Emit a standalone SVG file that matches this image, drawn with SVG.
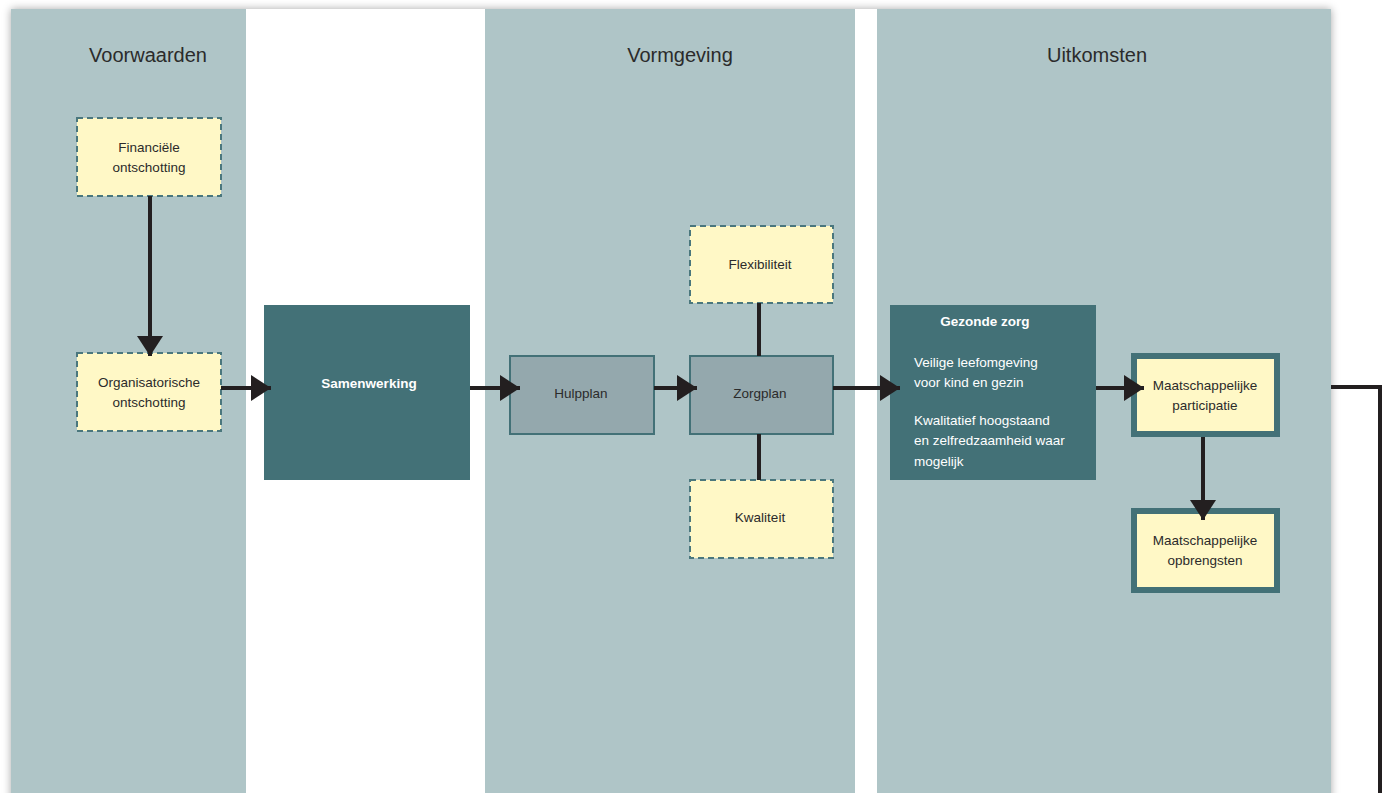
<svg xmlns="http://www.w3.org/2000/svg" width="1388" height="793" viewBox="0 0 1388 793">
<defs>
<filter id="sh" x="-5%" y="-5%" width="110%" height="110%">
<feDropShadow dx="0" dy="0" stdDeviation="4" flood-color="#000" flood-opacity="0.35"/>
</filter>
<marker id="ah" viewBox="0 0 20 26" refX="20" refY="13" markerWidth="20" markerHeight="26" markerUnits="userSpaceOnUse" orient="auto">
<path d="M0,0 L20,13 L0,26 Z" fill="#231f20"/>
</marker>
<style>
.col{fill:#afc5c7}
.title{font-family:"Liberation Sans",Arial,sans-serif;font-size:20px;fill:#2b2b2b;text-anchor:middle}
.dash{fill:#fff8c6;stroke:#4a777d;stroke-width:2;stroke-dasharray:6,4}
.dark{fill:#437177}
.grey{fill:#94a8ad;stroke:#437177;stroke-width:2}
.thick{fill:#fff8c6;stroke:#437177;stroke-width:6}
.t{font-family:"Liberation Sans",Arial,sans-serif;font-size:13.5px;fill:#2b2b2b;text-anchor:middle}
.tw{font-family:"Liberation Sans",Arial,sans-serif;font-size:13.5px;fill:#ffffff}
.tb{font-family:"Liberation Sans",Arial,sans-serif;font-size:13.5px;font-weight:bold;fill:#ffffff;text-anchor:middle}
.c{fill:none;stroke:#231f20;stroke-width:4}
</style>
</defs>
<g id="background">
<rect x="11" y="9" width="1320" height="800" fill="#ffffff" filter="url(#sh)"/>
<rect class="col" x="11" y="9" width="235" height="790"/>
<rect class="col" x="485" y="9" width="370" height="790"/>
<rect class="col" x="877" y="9" width="454" height="790"/>
<text class="title" x="148" y="62">Voorwaarden</text>
<text class="title" x="680" y="62">Vormgeving</text>
<text class="title" x="1097" y="62">Uitkomsten</text>
</g>
<g id="financiele">
<rect class="dash" x="77" y="118" width="144" height="78"/>
<text class="t" x="149" y="152">Financiële</text>
<text class="t" x="149" y="172">ontschotting</text>
</g>
<g id="organisatorische">
<rect class="dash" x="77" y="353" width="144" height="78"/>
<text class="t" x="149" y="387">Organisatorische</text>
<text class="t" x="149" y="407">ontschotting</text>
</g>
<g id="samenwerking">
<rect class="dark" x="264" y="305" width="206" height="175"/>
<text class="tb" x="369" y="388">Samenwerking</text>
</g>
<g id="hulpplan">
<rect class="grey" x="510" y="356" width="144" height="78"/>
<text class="t" x="581" y="398">Hulpplan</text>
</g>
<g id="zorgplan">
<rect class="grey" x="690" y="356" width="143" height="78"/>
<text class="t" x="760" y="398">Zorgplan</text>
</g>
<g id="flexibiliteit">
<rect class="dash" x="690" y="226" width="143" height="77"/>
<text class="t" x="760" y="269">Flexibiliteit</text>
</g>
<g id="kwaliteit">
<rect class="dash" x="690" y="480" width="143" height="78"/>
<text class="t" x="760" y="522">Kwaliteit</text>
</g>
<g id="gezonde-zorg">
<rect class="dark" x="890" y="305" width="206" height="175"/>
<text class="tb" x="985" y="326">Gezonde zorg</text>
<text class="tw" x="914" y="367">Veilige leefomgeving</text>
<text class="tw" x="914" y="387">voor kind en gezin</text>
<text class="tw" x="914" y="425">Kwalitatief hoogstaand</text>
<text class="tw" x="914" y="445">en zelfredzaamheid waar</text>
<text class="tw" x="914" y="466">mogelijk</text>
</g>
<g id="participatie">
<rect class="thick" x="1134" y="356" width="143" height="78"/>
<text class="t" x="1205" y="390">Maatschappelijke</text>
<text class="t" x="1205" y="410">participatie</text>
</g>
<g id="opbrengsten">
<rect class="thick" x="1134" y="511" width="143" height="79"/>
<text class="t" x="1205" y="545">Maatschappelijke</text>
<text class="t" x="1205" y="565">opbrengsten</text>
</g>
<g id="connectors">
<line class="c" x1="150" y1="196" x2="150" y2="356" marker-end="url(#ah)"/>
<line class="c" x1="221" y1="388" x2="271" y2="388" marker-end="url(#ah)"/>
<line class="c" x1="470" y1="388" x2="520" y2="388" marker-end="url(#ah)"/>
<line class="c" x1="654" y1="388" x2="697" y2="388" marker-end="url(#ah)"/>
<line class="c" x1="759" y1="303" x2="759" y2="356"/>
<line class="c" x1="759" y1="434" x2="759" y2="480"/>
<line class="c" x1="833" y1="388" x2="900" y2="388" marker-end="url(#ah)"/>
<line class="c" x1="1096" y1="388" x2="1144" y2="388" marker-end="url(#ah)"/>
<line class="c" x1="1203" y1="437" x2="1203" y2="520" marker-end="url(#ah)"/>
<path class="c" d="M1331,387 H1380 V793"/>
</g>
</svg>
